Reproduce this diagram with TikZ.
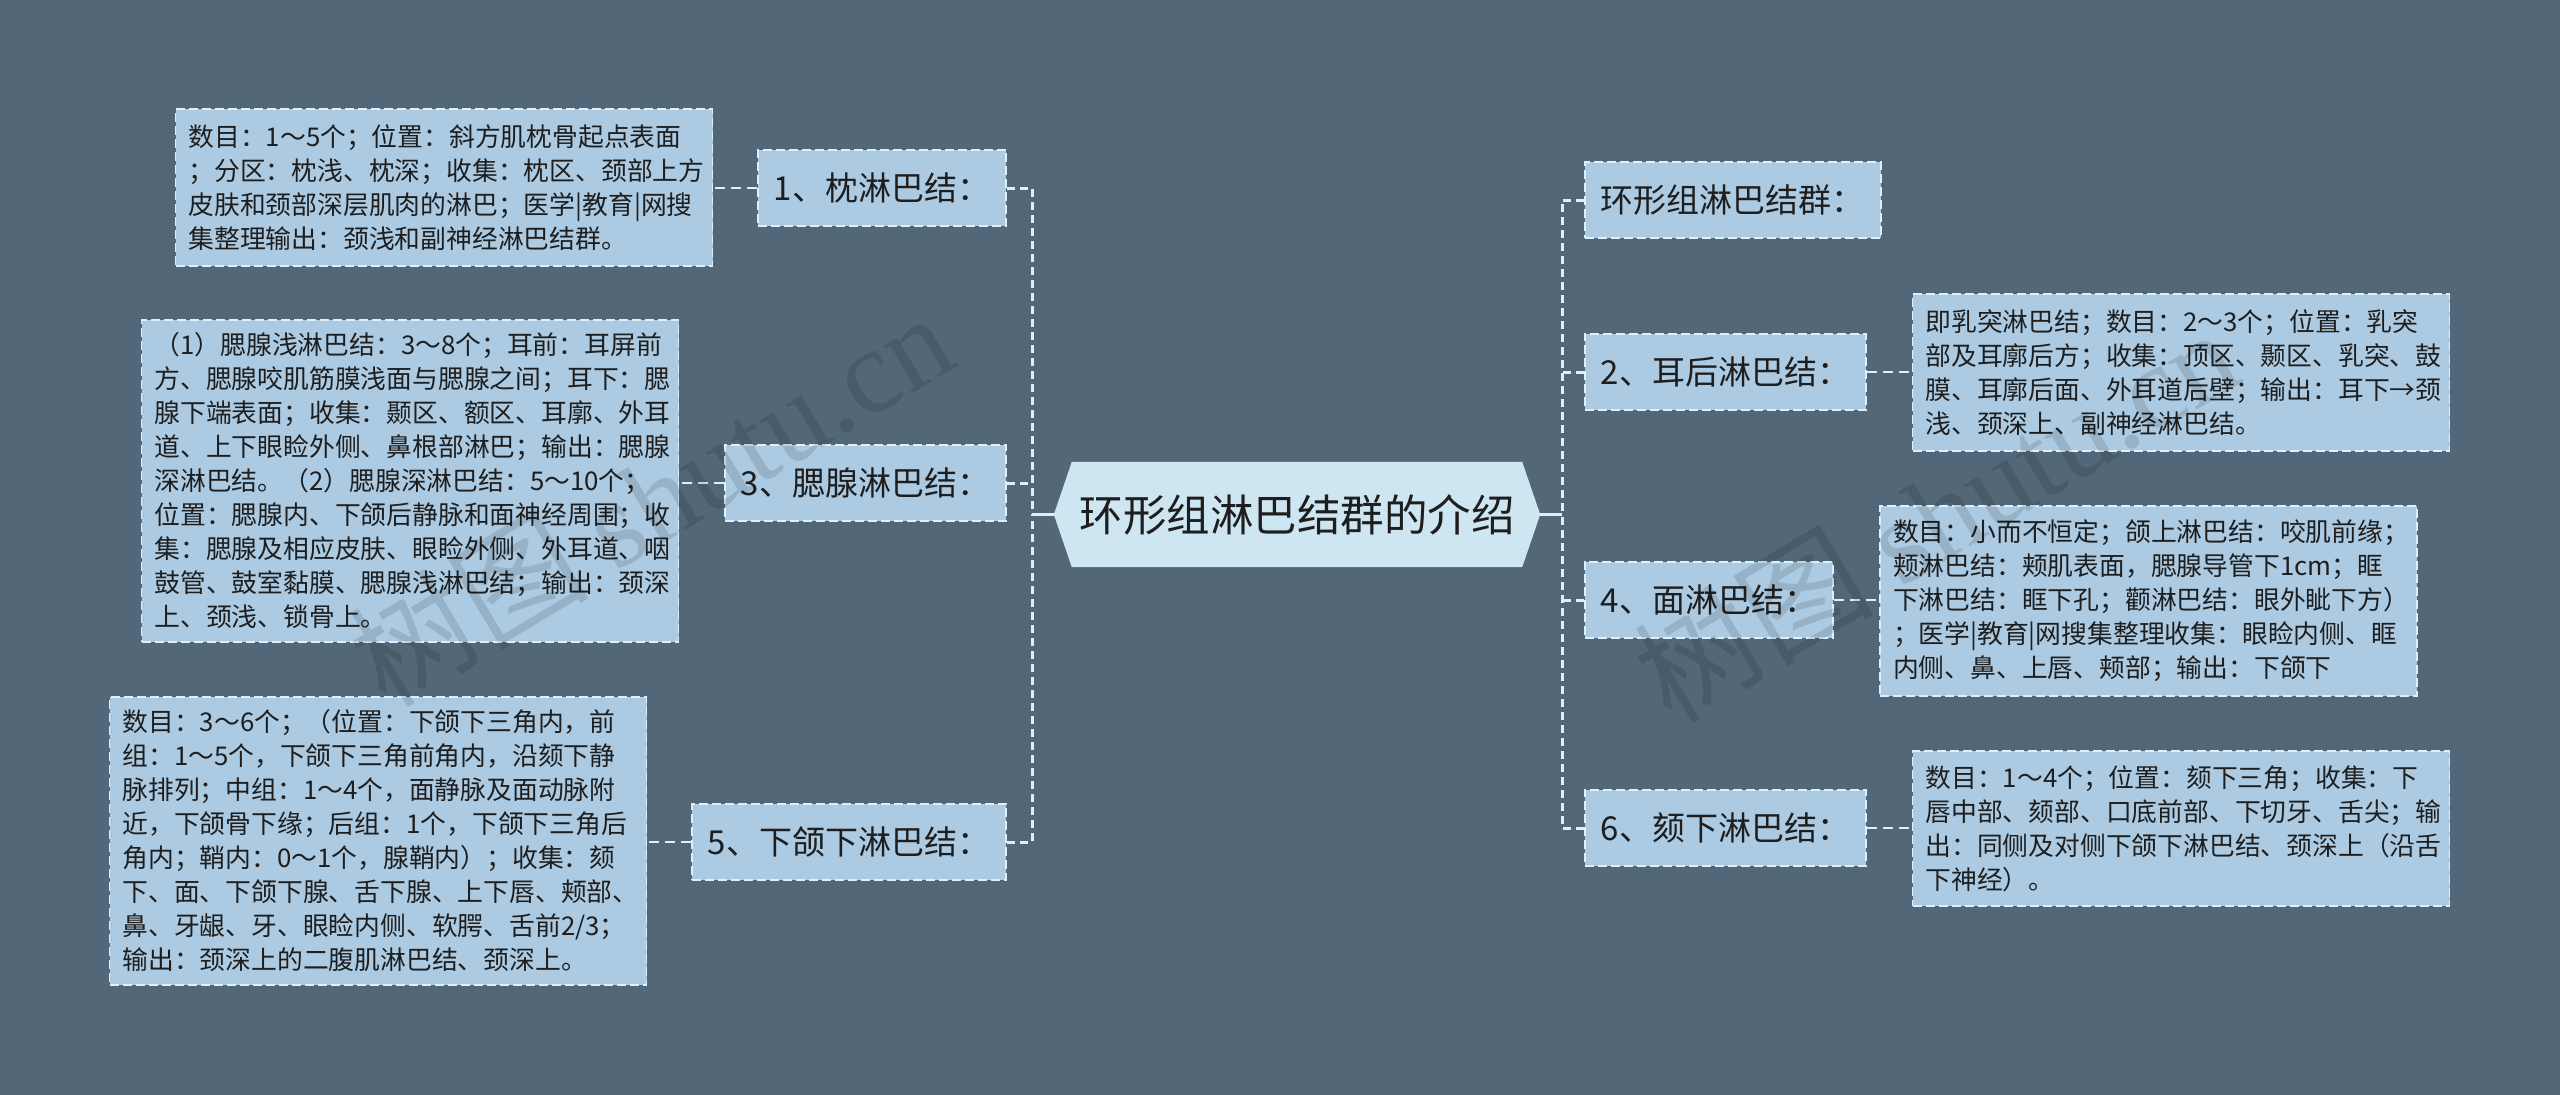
\documentclass[tikz,border=0pt]{standalone}
\usepackage{fontspec}
\setmainfont{Noto Sans CJK SC}
\newfontfamily\wmserif{Liberation Serif}
\usetikzlibrary{calc}
\pgfdeclarelayer{bg}
\pgfsetlayers{bg,main}
\definecolor{bgc}{RGB}{82,104,120}
\definecolor{boxc}{RGB}{172,203,227}
\definecolor{cenc}{RGB}{206,229,242}
\definecolor{linec}{RGB}{222,239,250}
\definecolor{txtc}{RGB}{30,30,30}
\tikzset{
  lvbox/.style={draw=linec, line width=1.6pt, dash pattern=on 9pt off 4pt, fill=boxc,
    font=\fontsize{33}{40}\selectfont, text=txtc, inner xsep=16pt, inner ysep=0pt, minimum height=76pt},
  detbox/.style={draw=linec, line width=1.6pt, dash pattern=on 9pt off 4pt, fill=boxc,
    font=\fontsize{25.8}{34}\selectfont, text=txtc, align=left, inner xsep=13pt, inner ysep=0pt,
    text width=511pt},
  cenbox/.style={font=\fontsize{43.5}{50}\selectfont, text=txtc, minimum width=450pt, minimum height=105pt, inner sep=0pt},
  trunk/.style={draw=linec, line width=3pt, dash pattern=on 8pt off 5pt},
  twig/.style={draw=linec, line width=2pt, dash pattern=on 10pt off 6pt},
  stem/.style={draw=linec, line width=2.5pt},
  wm/.style={font=\fontsize{120}{120}\selectfont, text=black, text opacity=0.12, inner sep=0pt}
}
\begin{document}
\begin{tikzpicture}[x=1pt,y=-1pt]
\useasboundingbox (0,0) rectangle (2560,1095);
% central
\node[cenbox] (c) at (1297,514.5) {环形组淋巴结群的介绍};
\coordinate (cl) at ($(c.west)+(-18,0)$);
\coordinate (cr) at ($(c.east)+(18,0)$);
\begin{pgfonlayer}{bg}
\fill[bgc] (0,0) rectangle (2560,1095);
\fill[cenc] (c.north west) -- (c.north east) -- (cr) -- (c.south east) -- (c.south west) -- (cl) -- cycle;
\end{pgfonlayer}
% left level-1
\node[lvbox, anchor=east] (n1) at (1007,188) {1、枕淋巴结：};
\node[lvbox, anchor=east] (n3) at (1007,483) {3、腮腺淋巴结：};
\node[lvbox, anchor=east] (n5) at (1007,842) {5、下颌下淋巴结：};
% right level-1
\node[lvbox, anchor=west] (r0) at (1584,200) {环形组淋巴结群：};
\node[lvbox, anchor=west] (r2) at (1584,372) {2、耳后淋巴结：};
\node[lvbox, anchor=west] (r4) at (1584,600) {4、面淋巴结：};
\node[lvbox, anchor=west] (r6) at (1584,828) {6、颏下淋巴结：};
% detail boxes
\node[detbox, minimum height=157pt] (d1) at (444,187.5) {数目：1～5个；位置：斜方肌枕骨起点表面\\；分区：枕浅、枕深；收集：枕区、颈部上方\\皮肤和颈部深层肌肉的淋巴；医学|教育|网搜\\集整理输出：颈浅和副神经淋巴结群。};
\node[detbox, minimum height=322pt] (d3) at (410,481) {（1）腮腺浅淋巴结：3～8个；耳前：耳屏前\\方、腮腺咬肌筋膜浅面与腮腺之间；耳下：腮\\腺下端表面；收集：颞区、额区、耳廓、外耳\\道、上下眼睑外侧、鼻根部淋巴；输出：腮腺\\深淋巴结。（2）腮腺深淋巴结：5～10个；\\位置：腮腺内、下颌后静脉和面神经周围；收\\集：腮腺及相应皮肤、眼睑外侧、外耳道、咽\\鼓管、鼓室黏膜、腮腺浅淋巴结；输出：颈深\\上、颈浅、锁骨上。};
\node[detbox, minimum height=288pt] (d5) at (378,841) {数目：3～6个；（位置：下颌下三角内，前\\组：1～5个，下颌下三角前角内，沿颏下静\\脉排列；中组：1～4个，面静脉及面动脉附\\近，下颌骨下缘；后组：1个，下颌下三角后\\角内；鞘内：0～1个，腺鞘内）；收集：颏\\下、面、下颌下腺、舌下腺、上下唇、颊部、\\鼻、牙龈、牙、眼睑内侧、软腭、舌前2/3；\\输出：颈深上的二腹肌淋巴结、颈深上。};
\node[detbox, minimum height=157pt] (d2) at (2181,372.5) {即乳突淋巴结；数目：2～3个；位置：乳突\\部及耳廓后方；收集：顶区、颞区、乳突、鼓\\膜、耳廓后面、外耳道后壁；输出：耳下→颈\\浅、颈深上、副神经淋巴结。};
\node[detbox, minimum height=190pt] (d4) at (2148.5,601) {数目：小而不恒定；颌上淋巴结：咬肌前缘；\\颊淋巴结：颊肌表面，腮腺导管下1cm；眶\\下淋巴结：眶下孔；颧淋巴结：眼外眦下方）\\；医学|教育|网搜集整理收集：眼睑内侧、眶\\内侧、鼻、上唇、颊部；输出：下颌下};
\node[detbox, minimum height=155pt] (d6) at (2181,828.5) {数目：1～4个；位置：颏下三角；收集：下\\唇中部、颏部、口底前部、下切牙、舌尖；输\\出：同侧及对侧下颌下淋巴结、颈深上（沿舌\\下神经）。};
% junctions
\coordinate (jl) at (1032,514.5);
\coordinate (jr) at (1562,514.5);
\draw[stem] (cl) -- (jl);
\draw[stem] (cr) -- (jr);
\draw[trunk] (n1.east) -| (jl);
\draw[trunk] (n5.east) -| (jl);
\draw[trunk] (n3.east) -- (n3.east -| jl);
\draw[trunk] (r0.west) -| (jr);
\draw[trunk] (r6.west) -| (jr);
\draw[trunk] (r2.west) -- (r2.west -| jr);
\draw[trunk] (r4.west) -- (r4.west -| jr);
% twigs
\draw[twig] (n1.west) -- (n1.west -| d1.east);
\draw[twig] (n3.west) -- (n3.west -| d3.east);
\draw[twig] (n5.west) -- (n5.west -| d5.east);
\draw[twig] (r2.east) -- (r2.east -| d2.west);
\draw[twig] (r4.east) -- (r4.east -| d4.west);
\draw[twig] (r6.east) -- (r6.east -| d6.west);
% watermarks
\node[wm, rotate=31] (w1) at (650,498) {树图 {\wmserif shutu.cn}};
\node[wm, rotate=31] (w2) at (1935,514) {树图 {\wmserif shutu.cn}};
\end{tikzpicture}
\end{document}
